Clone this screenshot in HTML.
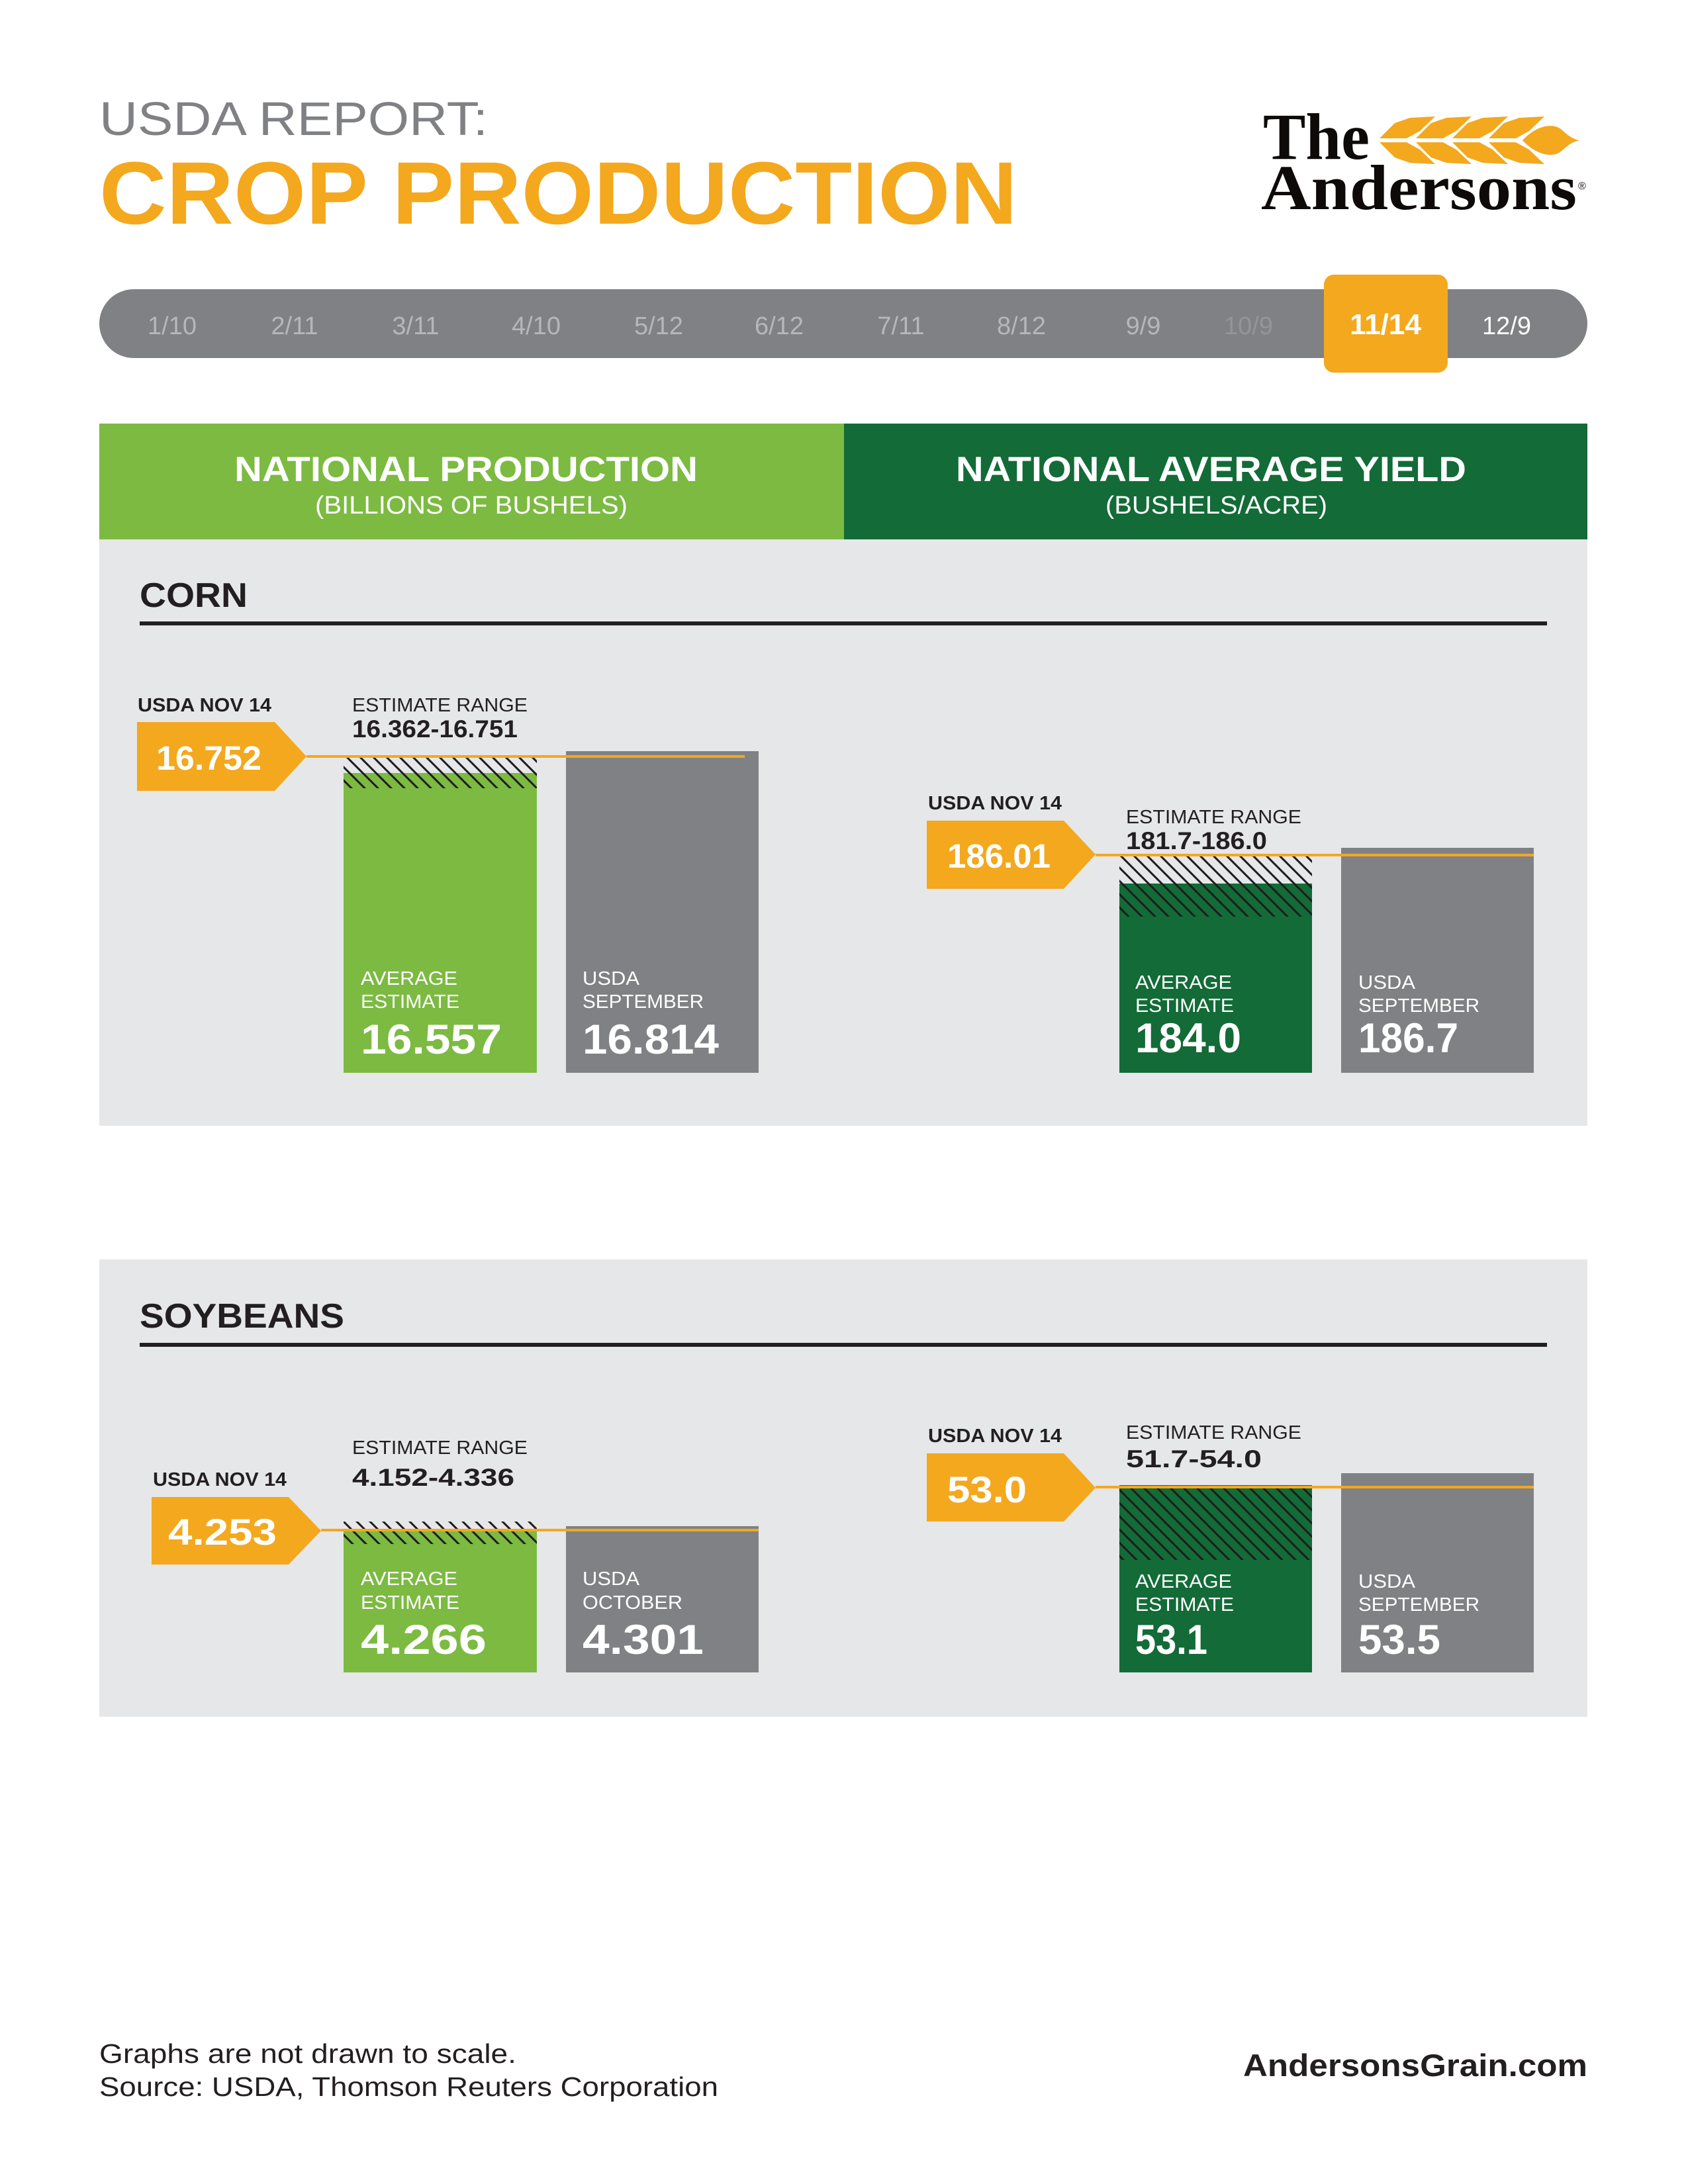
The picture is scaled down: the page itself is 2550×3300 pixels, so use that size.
<!DOCTYPE html>
<html><head><meta charset="utf-8"><style>html,body{margin:0;padding:0;background:#fff}svg{display:block}</style></head>
<body>
<svg xmlns="http://www.w3.org/2000/svg" width="2550" height="3300" viewBox="0 0 2550 3300">
<defs>
<pattern id="h" patternUnits="userSpaceOnUse" width="20" height="20">
<path d="M-5,-5 L25,25 M-5,15 L5,25 M15,-5 L25,5" stroke="#1d1d1d" stroke-width="3"/>
</pattern>
</defs>
<rect width="2550" height="3300" fill="#fff"/>
<g font-family="Liberation Sans, sans-serif">
<!-- title -->
<text x="150" y="204" font-size="71" fill="#808184" textLength="587" lengthAdjust="spacingAndGlyphs">USDA REPORT:</text>
<text x="150" y="338" font-size="134" font-weight="bold" fill="#f3a81e" textLength="1387" lengthAdjust="spacingAndGlyphs">CROP PRODUCTION</text>
<!-- logo -->
<text x="1908" y="240" font-family="Liberation Serif, serif" font-weight="bold" font-size="100" fill="#0f0a0a" textLength="161" lengthAdjust="spacingAndGlyphs">The</text>
<text x="1905" y="316" font-family="Liberation Serif, serif" font-weight="bold" font-size="96" fill="#0f0a0a" textLength="477" lengthAdjust="spacingAndGlyphs">Andersons</text>
<text x="2384" y="286" font-family="Liberation Sans, sans-serif" font-size="16" fill="#0f0a0a">®</text>
<g fill="#f3a81e">
<polygon points="2084,209 2107,186 2130,178 2168,176 2145,198 2125,209"/>
<polygon points="2139,209 2162,186 2185,178 2223,176 2200,198 2180,209"/>
<polygon points="2194,209 2217,186 2240,178 2278,176 2255,198 2235,209"/>
<polygon points="2249,209 2272,186 2295,178 2333,176 2310,198 2290,209"/>
<polygon points="2084,215 2107,238 2130,246 2168,248 2145,226 2125,215"/>
<polygon points="2139,215 2162,238 2185,246 2223,248 2200,226 2180,215"/>
<polygon points="2194,215 2217,238 2240,246 2278,248 2255,226 2235,215"/>
<polygon points="2249,215 2272,238 2295,246 2333,248 2310,226 2290,215"/>
<path d="M2300,212 C2320,190 2345,185 2358,195 C2368,204 2375,210 2386,212 C2375,214 2368,220 2358,229 C2345,239 2320,234 2300,212 Z"/>
</g>
<!-- timeline -->
<rect x="150" y="437" width="2248" height="104" rx="52" fill="#808184"/>
<rect x="2000" y="415" width="187" height="148" rx="15" fill="#f3a81e"/>
<g font-size="38" text-anchor="middle" fill="#b6b7ba">
<text x="260" y="505">1/10</text><text x="445" y="505">2/11</text><text x="628" y="505">3/11</text>
<text x="810" y="505">4/10</text><text x="995" y="505">5/12</text><text x="1177" y="505">6/12</text>
<text x="1361" y="505">7/11</text><text x="1543" y="505">8/12</text><text x="1727" y="505">9/9</text>
<text x="1886" y="505" fill="#939598">10/9</text>
<text x="2093" y="505" fill="#fff" font-weight="bold" font-size="44">11/14</text>
<text x="2276" y="505" fill="#fff">12/9</text>
</g>
<!-- header band -->
<rect x="150" y="640" width="1125" height="175" fill="#7cba42"/>
<rect x="1275" y="640" width="1123" height="175" fill="#136b37"/>
<text x="354" y="727" font-size="53" font-weight="bold" fill="#fff" textLength="700" lengthAdjust="spacingAndGlyphs">NATIONAL PRODUCTION</text>
<text x="476" y="776" font-size="38" fill="#fff" textLength="472" lengthAdjust="spacingAndGlyphs">(BILLIONS OF BUSHELS)</text>
<text x="1444" y="727" font-size="53" font-weight="bold" fill="#fff" textLength="771" lengthAdjust="spacingAndGlyphs">NATIONAL AVERAGE YIELD</text>
<text x="1670" y="776" font-size="38" fill="#fff" textLength="335" lengthAdjust="spacingAndGlyphs">(BUSHELS/ACRE)</text>

<!-- CORN panel -->
<rect x="150" y="815" width="2248" height="886" fill="#e6e7e8"/>
<text x="211" y="917" font-size="52" font-weight="bold" fill="#231f20" textLength="163" lengthAdjust="spacingAndGlyphs">CORN</text>
<rect x="211" y="939" width="2126" height="6" fill="#231f20"/>

<!-- corn left -->
<text x="208" y="1075" font-size="29" font-weight="bold" fill="#231f20" textLength="202" lengthAdjust="spacingAndGlyphs">USDA NOV 14</text>
<text x="532" y="1075" font-size="29" fill="#231f20" textLength="265" lengthAdjust="spacingAndGlyphs">ESTIMATE RANGE</text>
<text x="532" y="1114" font-size="37" font-weight="bold" fill="#231f20" textLength="250" lengthAdjust="spacingAndGlyphs">16.362-16.751</text>
<rect x="519" y="1168" width="292" height="453" fill="#7cba42"/>
<rect x="855" y="1135" width="291" height="486" fill="#808184"/>
<rect x="519" y="1144" width="292" height="47" fill="url(#h)"/>
<polygon points="207,1091 415,1091 463,1143 415,1195 207,1195" fill="#f3a81e"/>
<rect x="463" y="1141" width="662" height="4" fill="#f3a81e"/>
<text x="236" y="1163" font-size="51" font-weight="bold" fill="#fff" textLength="159" lengthAdjust="spacingAndGlyphs">16.752</text>
<text x="545" y="1488" font-size="29" fill="#fff" textLength="146" lengthAdjust="spacingAndGlyphs">AVERAGE</text>
<text x="545" y="1523" font-size="29" fill="#fff" textLength="149" lengthAdjust="spacingAndGlyphs">ESTIMATE</text>
<text x="545" y="1592" font-size="63" font-weight="bold" fill="#fff" textLength="213" lengthAdjust="spacingAndGlyphs">16.557</text>
<text x="880" y="1488" font-size="29" fill="#fff" textLength="86" lengthAdjust="spacingAndGlyphs">USDA</text>
<text x="880" y="1523" font-size="29" fill="#fff" textLength="183" lengthAdjust="spacingAndGlyphs">SEPTEMBER</text>
<text x="880" y="1592" font-size="63" font-weight="bold" fill="#fff" textLength="206" lengthAdjust="spacingAndGlyphs">16.814</text>

<!-- corn right -->
<text x="1402" y="1223" font-size="29" font-weight="bold" fill="#231f20" textLength="202" lengthAdjust="spacingAndGlyphs">USDA NOV 14</text>
<text x="1701" y="1244" font-size="29" fill="#231f20" textLength="265" lengthAdjust="spacingAndGlyphs">ESTIMATE RANGE</text>
<text x="1701" y="1283" font-size="37" font-weight="bold" fill="#231f20" textLength="213" lengthAdjust="spacingAndGlyphs">181.7-186.0</text>
<rect x="1691" y="1335" width="291" height="286" fill="#136b37"/>
<rect x="2026" y="1281" width="291" height="340" fill="#808184"/>
<rect x="1691" y="1293" width="291" height="92" fill="url(#h)"/>
<polygon points="1400,1240 1607,1240 1655,1291 1607,1343 1400,1343" fill="#f3a81e"/>
<rect x="1655" y="1290" width="662" height="4" fill="#f3a81e"/>
<text x="1431" y="1311" font-size="51" font-weight="bold" fill="#fff" textLength="156" lengthAdjust="spacingAndGlyphs">186.01</text>
<text x="1715" y="1494" font-size="29" fill="#fff" textLength="146" lengthAdjust="spacingAndGlyphs">AVERAGE</text>
<text x="1715" y="1529" font-size="29" fill="#fff" textLength="149" lengthAdjust="spacingAndGlyphs">ESTIMATE</text>
<text x="1715" y="1590" font-size="63" font-weight="bold" fill="#fff" textLength="160" lengthAdjust="spacingAndGlyphs">184.0</text>
<text x="2052" y="1494" font-size="29" fill="#fff" textLength="86" lengthAdjust="spacingAndGlyphs">USDA</text>
<text x="2052" y="1529" font-size="29" fill="#fff" textLength="183" lengthAdjust="spacingAndGlyphs">SEPTEMBER</text>
<text x="2052" y="1590" font-size="63" font-weight="bold" fill="#fff" textLength="151" lengthAdjust="spacingAndGlyphs">186.7</text>

<!-- SOY panel -->
<rect x="150" y="1903" width="2248" height="691" fill="#e6e7e8"/>
<text x="211" y="2006" font-size="52" font-weight="bold" fill="#231f20" textLength="309" lengthAdjust="spacingAndGlyphs">SOYBEANS</text>
<rect x="211" y="2029" width="2126" height="6" fill="#231f20"/>

<!-- soy left -->
<text x="231" y="2245" font-size="29" font-weight="bold" fill="#231f20" textLength="202" lengthAdjust="spacingAndGlyphs">USDA NOV 14</text>
<text x="532" y="2197" font-size="29" fill="#231f20" textLength="265" lengthAdjust="spacingAndGlyphs">ESTIMATE RANGE</text>
<text x="532" y="2245" font-size="37" font-weight="bold" fill="#231f20" textLength="245" lengthAdjust="spacingAndGlyphs">4.152-4.336</text>
<rect x="519" y="2314" width="292" height="213" fill="#7cba42"/>
<rect x="855" y="2306" width="291" height="221" fill="#808184"/>
<rect x="519" y="2299" width="292" height="34" fill="url(#h)"/>
<polygon points="229,2262 436,2262 485,2313 436,2364 229,2364" fill="#f3a81e"/>
<rect x="485" y="2310" width="661" height="4" fill="#f3a81e"/>
<text x="254" y="2334" font-size="56" font-weight="bold" fill="#fff" textLength="164" lengthAdjust="spacingAndGlyphs">4.253</text>
<text x="545" y="2395" font-size="29" fill="#fff" textLength="146" lengthAdjust="spacingAndGlyphs">AVERAGE</text>
<text x="545" y="2431" font-size="29" fill="#fff" textLength="149" lengthAdjust="spacingAndGlyphs">ESTIMATE</text>
<text x="545" y="2499" font-size="63" font-weight="bold" fill="#fff" textLength="190" lengthAdjust="spacingAndGlyphs">4.266</text>
<text x="880" y="2395" font-size="29" fill="#fff" textLength="86" lengthAdjust="spacingAndGlyphs">USDA</text>
<text x="880" y="2431" font-size="29" fill="#fff" textLength="151" lengthAdjust="spacingAndGlyphs">OCTOBER</text>
<text x="880" y="2499" font-size="63" font-weight="bold" fill="#fff" textLength="183" lengthAdjust="spacingAndGlyphs">4.301</text>

<!-- soy right -->
<text x="1402" y="2179" font-size="29" font-weight="bold" fill="#231f20" textLength="202" lengthAdjust="spacingAndGlyphs">USDA NOV 14</text>
<text x="1701" y="2174" font-size="29" fill="#231f20" textLength="265" lengthAdjust="spacingAndGlyphs">ESTIMATE RANGE</text>
<text x="1701" y="2217" font-size="37" font-weight="bold" fill="#231f20" textLength="205" lengthAdjust="spacingAndGlyphs">51.7-54.0</text>
<rect x="1691" y="2244" width="291" height="283" fill="#136b37"/>
<rect x="2026" y="2226" width="291" height="301" fill="#808184"/>
<rect x="1691" y="2247" width="291" height="110" fill="url(#h)"/>
<polygon points="1400,2196 1607,2196 1655,2248 1607,2299 1400,2299" fill="#f3a81e"/>
<rect x="1655" y="2245" width="662" height="4" fill="#f3a81e"/>
<text x="1431" y="2270" font-size="56" font-weight="bold" fill="#fff" textLength="120" lengthAdjust="spacingAndGlyphs">53.0</text>
<text x="1715" y="2399" font-size="29" fill="#fff" textLength="146" lengthAdjust="spacingAndGlyphs">AVERAGE</text>
<text x="1715" y="2434" font-size="29" fill="#fff" textLength="149" lengthAdjust="spacingAndGlyphs">ESTIMATE</text>
<text x="1715" y="2499" font-size="63" font-weight="bold" fill="#fff" textLength="109" lengthAdjust="spacingAndGlyphs">53.1</text>
<text x="2052" y="2399" font-size="29" fill="#fff" textLength="86" lengthAdjust="spacingAndGlyphs">USDA</text>
<text x="2052" y="2434" font-size="29" fill="#fff" textLength="183" lengthAdjust="spacingAndGlyphs">SEPTEMBER</text>
<text x="2052" y="2499" font-size="63" font-weight="bold" fill="#fff" textLength="124" lengthAdjust="spacingAndGlyphs">53.5</text>

<!-- footer -->
<text x="150" y="3117" font-size="41" fill="#231f20" textLength="630" lengthAdjust="spacingAndGlyphs">Graphs are not drawn to scale.</text>
<text x="150" y="3167" font-size="41" fill="#231f20" textLength="935" lengthAdjust="spacingAndGlyphs">Source: USDA, Thomson Reuters Corporation</text>
<text x="1878" y="3137" font-size="47" font-weight="bold" fill="#231f20" textLength="520" lengthAdjust="spacingAndGlyphs">AndersonsGrain.com</text>
</g>
</svg>
</body></html>
